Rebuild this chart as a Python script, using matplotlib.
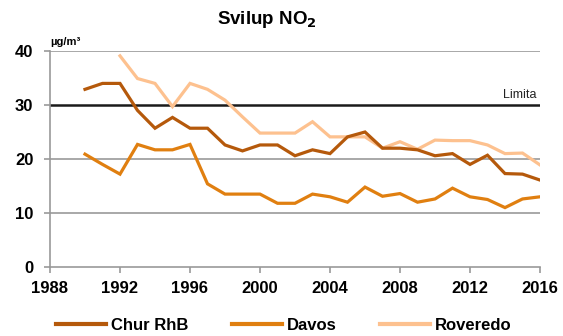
import numpy as np
import matplotlib
matplotlib.use("Agg")
import matplotlib.pyplot as plt
from matplotlib.lines import Line2D

plt.rcParams['font.family'] = ['Liberation Sans', 'DejaVu Sans']

# data
years = np.arange(1990, 2017)
years_rov = np.arange(1992, 2017)
chur = [32.9, 34.0, 34.0, 29.0, 25.7, 27.7, 25.7, 25.7, 22.6, 21.5, 22.6, 22.6, 20.6, 21.7,
        21.0, 24.1, 25.0, 22.0, 22.0, 21.7, 20.6, 21.0, 19.0, 20.7, 17.3, 17.2, 16.1]
davos = [20.9, 19.0, 17.2, 22.7, 21.7, 21.7, 22.7, 15.4, 13.5, 13.5, 13.5, 11.8, 11.8, 13.5,
         13.0, 12.0, 14.8, 13.1, 13.6, 12.0, 12.6, 14.6, 13.0, 12.5, 11.0, 12.6, 13.0]
roveredo = [39.1, 34.9, 34.0, 29.7, 34.0, 32.9, 30.9, 27.8, 24.8, 24.8, 24.8, 26.9,
            24.1, 24.1, 24.1, 22.0, 23.2, 21.8, 23.5, 23.4, 23.4, 22.6, 21.0, 21.1, 18.9]
limit = 30
xticks = np.arange(1988, 2017, 4)
yticks = [0, 10, 20, 30, 40]

c_chur = '#B5590B'
c_davos = '#E07F10'
c_rov = '#FDC18F'

fig = plt.figure(figsize=(5.63, 3.36), dpi=100)
ax = fig.add_axes([50 / 563, 1 - 267 / 336, 490 / 563, 216 / 336])

for y in [10, 20, 40]:
    ax.axhline(y, color='#999999', lw=1.2, zorder=1)
ax.axhline(limit, color='#1a1a1a', lw=1.8, zorder=1)

ax.plot(years, chur, color=c_chur, lw=2.3, zorder=3, solid_joinstyle='miter')
ax.plot(years, davos, color=c_davos, lw=2.3, zorder=3, solid_joinstyle='miter')
ax.plot(years_rov, roveredo, color=c_rov, lw=2.3, zorder=2, solid_joinstyle='miter')

ax.set_xlim(1988, 2016)
ax.set_ylim(0, 40)
ax.set_xticks(xticks)
ax.set_yticks(yticks)
ax.tick_params(axis='both', colors='#999999', length=4, width=1.2, labelcolor='black',
               labelsize=12)
for lab in ax.get_xticklabels() + ax.get_yticklabels():
    lab.set_fontweight('bold')
ax.tick_params(axis='x', pad=6)
ax.tick_params(axis='y', pad=8)
for s in ['top', 'right']:
    ax.spines[s].set_visible(False)
for s in ['left', 'bottom']:
    ax.spines[s].set_color('#999999')
    ax.spines[s].set_linewidth(1.2)

ax.text(2015.8, 30.8, 'Limita', ha='right', va='bottom', fontsize=9, color='#222222')
fig.text(50 / 563, 1 - 42 / 336, 'µg/m³', ha='left', va='center', fontsize=8, fontweight='bold')
fig.text(267 / 563, 1 - 20 / 336, 'Svilup NO$_\\mathbf{2}$', ha='center', va='center',
         fontsize=13.5, fontweight='bold')

handles = [Line2D([], [], color=c_chur, lw=3),
           Line2D([], [], color=c_davos, lw=3),
           Line2D([], [], color=c_rov, lw=3)]
fig.legend(handles, ['Chur RhB', 'Davos', 'Roveredo'], loc='center',
           bbox_to_anchor=(284 / 563, 1 - 325 / 336), ncol=3, frameon=False,
           prop={'weight': 'bold', 'size': 12}, handlelength=3.0, handletextpad=0.3,
           columnspacing=2.6)

fig.savefig('out.png', dpi=100)
